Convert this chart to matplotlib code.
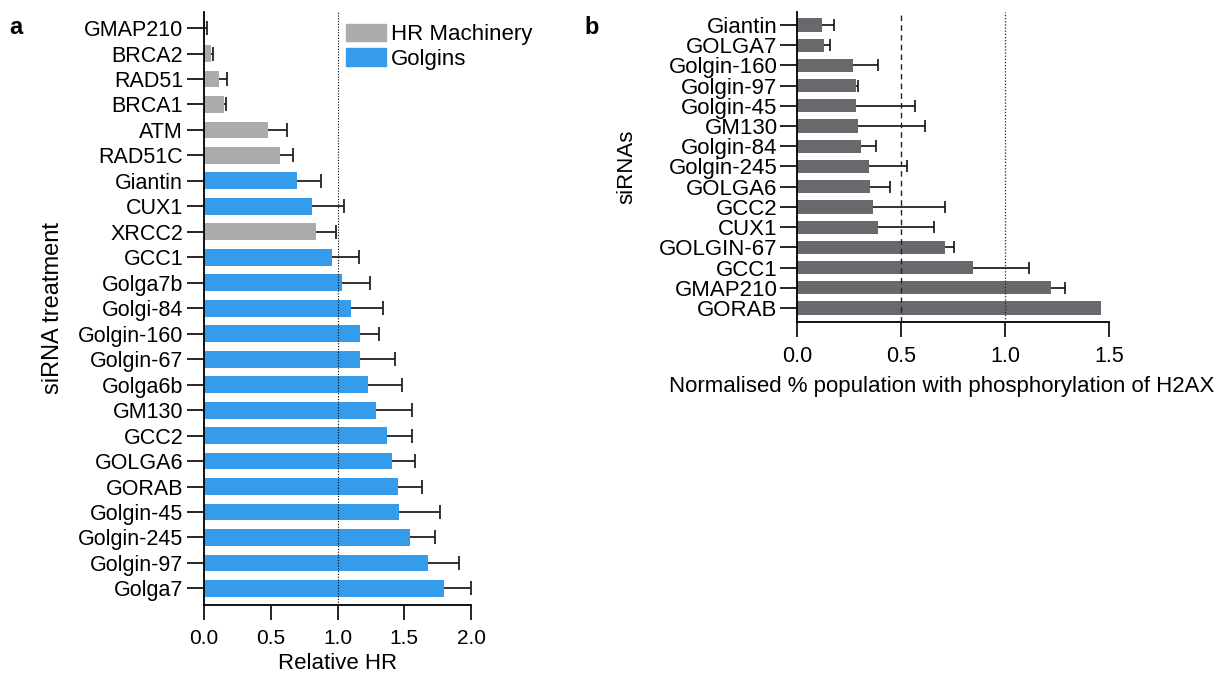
import numpy as np
import matplotlib
matplotlib.use("Agg")
import matplotlib.pyplot as plt
from matplotlib.patches import Patch

plt.rcParams['font.family'] = ['Liberation Sans', 'DejaVu Sans']

# ---- Panel a data ----
a_labels = ["GMAP210", "BRCA2", "RAD51", "BRCA1", "ATM", "RAD51C", "Giantin", "CUX1",
            "XRCC2", "GCC1", "Golga7b", "Golgi-84", "Golgin-160", "Golgin-67", "Golga6b",
            "GM130", "GCC2", "GOLGA6", "GORAB", "Golgin-45", "Golgin-245", "Golgin-97", "Golga7"]
a_values = [0.01, 0.05, 0.11, 0.15, 0.48, 0.57, 0.70, 0.81, 0.84, 0.96, 1.03, 1.10, 1.17,
            1.17, 1.23, 1.29, 1.37, 1.41, 1.45, 1.46, 1.54, 1.68, 1.80]
a_err_top = [0.02, 0.07, 0.17, 0.165, 0.62, 0.67, 0.88, 1.05, 0.99, 1.16, 1.24, 1.34, 1.31,
             1.43, 1.48, 1.56, 1.56, 1.58, 1.63, 1.77, 1.73, 1.91, 2.00]
a_group = ["HR", "HR", "HR", "HR", "HR", "HR", "G", "G", "HR", "G", "G", "G", "G", "G", "G",
           "G", "G", "G", "G", "G", "G", "G", "G"]
a_xticks = [0.0, 0.5, 1.0, 1.5, 2.0]

# ---- Panel b data ----
b_labels = ["Giantin", "GOLGA7", "Golgin-160", "Golgin-97", "Golgin-45", "GM130", "Golgin-84",
            "Golgin-245", "GOLGA6", "GCC2", "CUX1", "GOLGIN-67", "GCC1", "GMAP210", "GORAB"]
b_values = [0.12, 0.13, 0.27, 0.285, 0.285, 0.293, 0.31, 0.345, 0.35, 0.365, 0.39, 0.71,
            0.845, 1.22, 1.46]
b_err_top = [0.18, 0.16, 0.39, 0.293, 0.566, 0.617, 0.38, 0.527, 0.447, 0.71, 0.66, 0.754,
             1.115, 1.29, 1.46]
b_xticks = [0.0, 0.5, 1.0, 1.5]

GRAY_A = "#ABABAB"
BLUE_A = "#349CEB"
GRAY_B = "#67696C"

fig = plt.figure(figsize=(12.26, 6.75), dpi=100)
W, H = 1226, 675

def axes_px(left, right, top, bottom):
    return fig.add_axes([left / W, 1 - bottom / H, (right - left) / W, (bottom - top) / H])

# ---------------- Panel a ----------------
axa = axes_px(204, 471, 12, 605)
ya = np.arange(len(a_labels))
cols = [GRAY_A if g == "HR" else BLUE_A for g in a_group]
axa.barh(ya, a_values, height=0.66, color=cols, zorder=2)
va = np.array(a_values); ea = np.array(a_err_top)
axa.errorbar(va, ya, xerr=[np.zeros_like(va), ea - va], fmt='none', ecolor='#222222',
             elinewidth=1.3, capsize=0, zorder=3)
axa.scatter(ea, ya, marker='|', s=90, color='#222222', linewidths=1.3, zorder=3)
axa.axvline(1.0, color='black', linestyle=(0, (1, 1.5)), linewidth=0.8, zorder=4)
axa.set_xlim(0, 2.0)
axa.set_ylim(len(a_labels) - 1 + 0.65, -0.63)
axa.set_yticks(ya)
axa.set_yticklabels(a_labels, fontsize=15.5)
axa.set_xticks(a_xticks)
axa.set_xticklabels([f"{t:.1f}" for t in a_xticks], fontsize=15)
axa.tick_params(axis='y', length=12, width=1.2, pad=3)
axa.tick_params(axis='x', length=11, width=1.2, pad=6)
for s in ['top', 'right']:
    axa.spines[s].set_visible(False)
for s in ['left', 'bottom']:
    axa.spines[s].set_linewidth(1.3)
axa.set_xlabel("Relative HR", fontsize=16)
axa.xaxis.set_label_coords(0.5, -0.081)
axa.set_ylabel("siRNA treatment", fontsize=17)
axa.yaxis.set_label_coords(-0.526, 0.5)
leg = fig.legend(handles=[Patch(color=GRAY_A, label="HR Machinery"),
                          Patch(color=BLUE_A, label="Golgins")],
                 loc='upper left', bbox_to_anchor=(330 / W, 1 - 8 / H), frameon=False,
                 fontsize=16, handlelength=1.8, handleheight=0.85, handletextpad=0.25,
                 labelspacing=0.15, borderpad=0.2)
fig.text(16 / W, 1 - 28 / H, "a", fontsize=17, fontweight='bold', ha='center', va='center')

# ---------------- Panel b ----------------
axb = axes_px(797, 1109, 12, 322)
yb = np.arange(len(b_labels))
axb.barh(yb, b_values, height=0.65, color=GRAY_B, zorder=2)
vb = np.array(b_values); eb = np.array(b_err_top)
axb.errorbar(vb, yb, xerr=[np.zeros_like(vb), eb - vb], fmt='none', ecolor='#111111',
             elinewidth=1.2, capsize=0, zorder=3)
has_err = eb > vb
axb.scatter(eb[has_err], yb[has_err], marker='|', s=70, color='#111111', linewidths=1.2, zorder=3)
axb.axvline(0.5, color='#222222', linestyle=(0, (4, 3)), linewidth=1.0, zorder=4)
axb.axvline(1.0, color='#222222', linestyle=(0, (1, 1.5)), linewidth=0.9, zorder=4)
axb.set_xlim(0, 1.5)
axb.set_ylim(len(b_labels) - 1 + 0.69, -0.64)
axb.set_yticks(yb)
axb.set_yticklabels(b_labels, fontsize=16)
axb.set_xticks(b_xticks)
axb.set_xticklabels([f"{t:.1f}" for t in b_xticks], fontsize=15.5)
axb.tick_params(axis='y', length=12, width=1.2, pad=2)
axb.tick_params(axis='x', length=11, width=1.2, pad=6)
for s in ['top', 'right']:
    axb.spines[s].set_visible(False)
for s in ['left', 'bottom']:
    axb.spines[s].set_linewidth(1.3)
axb.set_xlabel("Normalised % population with phosphorylation of H2AX", fontsize=16)
axb.xaxis.set_label_coords(0.463, -0.175)
axb.set_ylabel("siRNAs", fontsize=16)
axb.yaxis.set_label_coords(-0.511, 0.5)
fig.text(592 / W, 1 - 28 / H, "b", fontsize=17, fontweight='bold', ha='center', va='center')

fig.savefig("out.png", dpi=100)
